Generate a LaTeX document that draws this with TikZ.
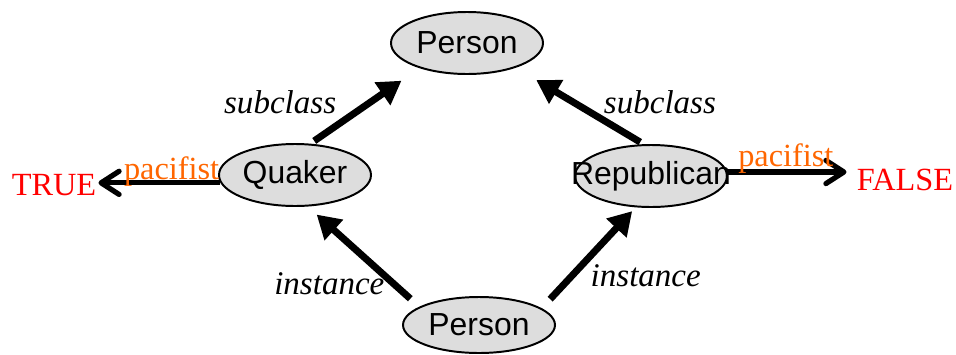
\documentclass[tikz,border=0pt]{standalone}
\usepackage{fontspec}
\setmainfont{Liberation Serif}
\newfontfamily\arialfont{Liberation Sans}
\usepackage{xcolor}
\usetikzlibrary{
    shapes.geometric,
    arrows.meta
}
\definecolor{ovalgray}{RGB}{221,221,221}
\definecolor{pacorange}{RGB}{255,102,0}

\begin{document}
\begin{tikzpicture}[
    oval/.style={
        ellipse,
        draw=black,
        line width=1.4pt,
        fill=ovalgray,
        minimum width=3.8cm,
        minimum height=1.55cm,
        inner sep=0pt,
        font=\arialfont\fontsize{22.7}{26}\selectfont
    },
    truth/.style={red, inner sep=0.05cm, font=\fontsize{23}{27}\selectfont},
    rel/.style={inner sep=0pt, font=\itshape\fontsize{23.5}{27}\selectfont},
    prop/.style={pacorange, inner sep=0pt, font=\fontsize{23}{27}\selectfont},
    isa/.style={-{Triangle[length=0.58cm,width=0.66cm]}, line width=0.175cm},
    attr/.style={-{Straight Barb[length=0.45cm,width=0.58cm,round]}, line width=0.13cm}
]
\useasboundingbox (0,0) rectangle (23.9,8.85);

% Concepts
\node[oval] (ptop) at (11.675, 7.775) {\makebox[0pt]{Person}};
\node[oval] (quaker) at (7.375, 4.475) {\makebox[0pt]{Quaker}};
\node[oval] (repub) at (16.275, 4.45) {\makebox[0pt]{Republican}};
\node[oval, minimum height=1.4cm] (pbot) at (11.975, 0.725) {\makebox[0pt]{Person}};

% Values
\node[truth, anchor=base] (true) at (1.35, 3.975) {TRUE};
\node[truth, anchor=base] (false) at (22.625, 4.1) {FALSE};

% subclass links
\draw[isa, shorten <=0.12cm, shorten >=0.55cm] (quaker.64) --
    node[rel, pos=0.4, anchor=base east, xshift=-0.36cm] {subclass} (ptop.208);
\draw[isa, shorten <=0.1cm, shorten >=0.6cm] (repub.103) --
    node[rel, pos=0.4, anchor=base west, xshift=0.2cm] {subclass} (ptop.333);

% instance links
\draw[isa, shorten <=0.3cm, shorten >=0.3cm] (pbot.163) --
    node[rel, pos=0.12, anchor=base east, xshift=-0.45cm] {instance} (quaker.292);
\draw[isa, shorten <=0.31cm, shorten >=0.13cm] (pbot.15) --
    node[rel, pos=0.22, anchor=base west, xshift=0.62cm] {instance} (repub.244);

% pacifist attribute
\draw[attr] (quaker.186) --
    node[prop, pos=0.4, anchor=base, yshift=0.09cm] {pacifist} (true.east |- quaker.186);
\draw[attr, shorten >=0.2cm] (repub.3) --
    node[prop, pos=0.46, anchor=base, yshift=0.13cm] {pacifist} (false.west |- repub.3);

\end{tikzpicture}
\end{document}
